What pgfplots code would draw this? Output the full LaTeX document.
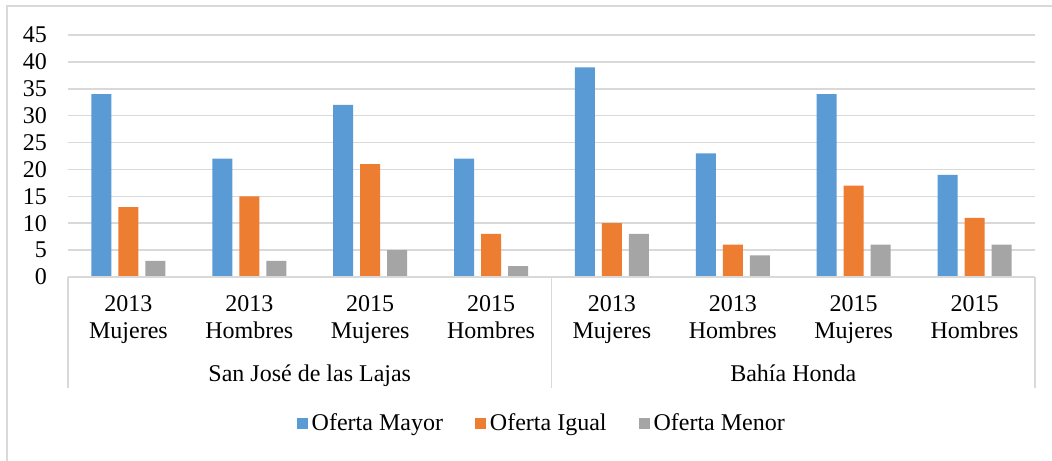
\documentclass[border=0pt]{standalone}
\usepackage{pgfplots}
\pgfplotsset{compat=1.18}
\usepackage{fontspec}
\setmainfont{Liberation Serif}
\definecolor{cblue}{HTML}{5B9BD5}
\definecolor{corange}{HTML}{ED7D31}
\definecolor{cgray}{HTML}{A5A5A5}
\definecolor{gridc}{HTML}{D9D9D9}
\begin{document}
\begin{tikzpicture}[x=1pt,y=1pt]
\useasboundingbox (-34,-91.5) rectangle (492,138.5);
\fill[white] (-34,-91.5) rectangle (492,138.5);
\draw[gridc, line width=0.8pt] (-30.5,-95) -- (-30.5,135.5) -- (495,135.5);
\begin{axis}[
  at={(0,0)}, anchor=south west,
  scale only axis, width=483.5pt, height=121pt,
  xmin=-0.5, xmax=7.5, ymin=0, ymax=45,
  ytick={0,5,...,45}, xtick=\empty,
  ymajorgrids, grid style={gridc, line width=0.75pt},
  axis line style={draw=none}, major tick length=0pt,
  /pgf/number format/assume math mode=true,
  ticklabel style={font=\fontsize{12}{14}\selectfont},
  yticklabel style={xshift=-7pt},
  ybar=3.5pt, bar width=10pt,
  clip=false,
  legend columns=3,
  legend style={at={(0.491,-0.607)}, anchor=center, draw=none, fill=none,
    font=\fontsize{12}{14}\selectfont,
    /tikz/every even column/.append style={column sep=14pt}},
  legend image code/.code={\fill[#1] (0pt,-2.8pt) rectangle (5.5pt,2.8pt);},
]
\addplot[fill=cblue, draw=none] coordinates {(0,34) (1,22) (2,32) (3,22) (4,39) (5,23) (6,34) (7,19)};
\addplot[fill=corange, draw=none] coordinates {(0,13) (1,15) (2,21) (3,8) (4,10) (5,6) (6,17) (7,11)};
\addplot[fill=cgray, draw=none] coordinates {(0,3) (1,3) (2,5) (3,2) (4,8) (5,4) (6,6) (7,6)};
\legend{Oferta Mayor, Oferta Igual, Oferta Menor}
\draw[gridc, line width=0.8pt] (axis cs:-0.5,0) -- (axis cs:7.5,0);
\draw[gridc, line width=0.8pt] (axis cs:-0.5,0) -- ([yshift=-55.5pt]axis cs:-0.5,0);
\draw[gridc, line width=0.8pt] (axis cs:3.5,0) -- ([yshift=-55.5pt]axis cs:3.5,0);
\draw[gridc, line width=0.8pt] (axis cs:7.5,0) -- ([yshift=-55.5pt]axis cs:7.5,0);
\tikzset{lab/.style={anchor=base, inner sep=0pt, font=\fontsize{12}{14}\selectfont}}
\node[lab] at ([yshift=-17.3pt]axis cs:0,0) {2013};
\node[lab] at ([yshift=-30.6pt]axis cs:0,0) {Mujeres};
\node[lab] at ([yshift=-17.3pt]axis cs:1,0) {2013};
\node[lab] at ([yshift=-30.6pt]axis cs:1,0) {Hombres};
\node[lab] at ([yshift=-17.3pt]axis cs:2,0) {2015};
\node[lab] at ([yshift=-30.6pt]axis cs:2,0) {Mujeres};
\node[lab] at ([yshift=-17.3pt]axis cs:3,0) {2015};
\node[lab] at ([yshift=-30.6pt]axis cs:3,0) {Hombres};
\node[lab] at ([yshift=-17.3pt]axis cs:4,0) {2013};
\node[lab] at ([yshift=-30.6pt]axis cs:4,0) {Mujeres};
\node[lab] at ([yshift=-17.3pt]axis cs:5,0) {2013};
\node[lab] at ([yshift=-30.6pt]axis cs:5,0) {Hombres};
\node[lab] at ([yshift=-17.3pt]axis cs:6,0) {2015};
\node[lab] at ([yshift=-30.6pt]axis cs:6,0) {Mujeres};
\node[lab] at ([yshift=-17.3pt]axis cs:7,0) {2015};
\node[lab] at ([yshift=-30.6pt]axis cs:7,0) {Hombres};
\node[lab] at ([yshift=-52.3pt]axis cs:1.5,0) {San José de las Lajas};
\node[lab] at ([yshift=-52.3pt]axis cs:5.5,0) {Bahía Honda};
\end{axis}
\end{tikzpicture}
\end{document}
